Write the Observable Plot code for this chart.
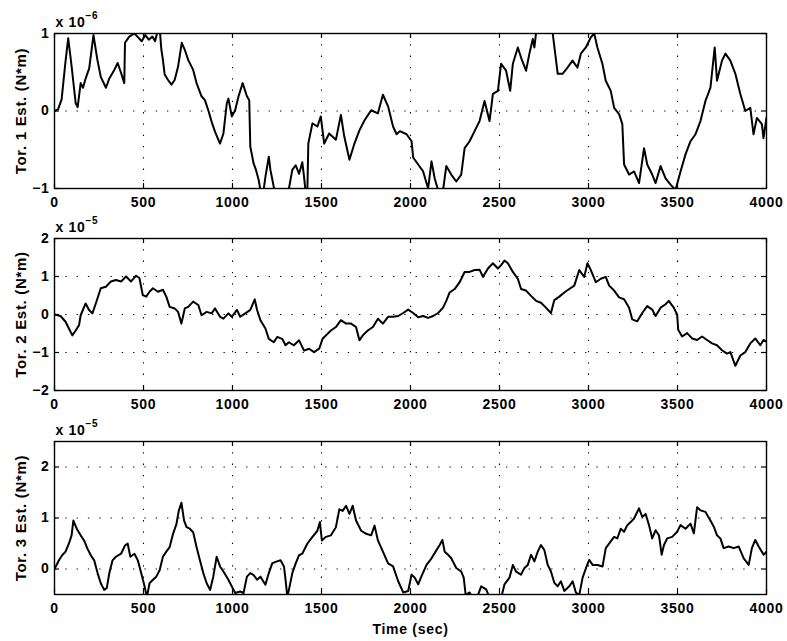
<!DOCTYPE html>
<html>
<head>
<meta charset="utf-8">
<script src="https://cdn.jsdelivr.net/npm/d3@7"></script>
<script src="https://cdn.jsdelivr.net/npm/@observablehq/plot@0.6"></script>
<style>
  html, body { margin: 0; padding: 0; background: #fff; }
  #chart { position: relative; width: 787px; height: 641px; }
  #chart svg { position: absolute; left: 0; display: block; }
</style>
</head>
<body>
<div id="chart"></div>
<script>
// Time axis ticks (sec)
const timeTicks = [0, 500, 1000, 1500, 2000, 2500, 3000, 3500, 4000];

// Torque estimate 1, units of 1e-6 N*m: [time (sec), value]
const tor1 = [
  [0,0],[20,0.02],[40,0.15],[60,0.6],[77,0.94],[95,0.6],[119,0.1],[130,0.05],[147,0.36],[160,0.3],
  [175,0.42],[195,0.55],[219,0.98],[241,0.66],[260,0.44],[289,0.3],[308,0.42],[336,0.53],[355,0.62],[374,0.49],
  [392,0.36],[396,0.88],[420,0.96],[449,1.0],[470,0.95],[490,0.9],[510,0.98],[530,0.92],[550,0.96],[565,0.9],
  [581,1.05],[590,1.1],[600,0.8],[609,0.66],[619,0.47],[638,0.4],[657,0.34],[675,0.4],[694,0.57],[715,0.88],
  [732,0.79],[751,0.66],[779,0.53],[798,0.36],[826,0.19],[845,0.14],[864,0.01],[883,-0.14],[902,-0.27],[930,-0.42],
  [949,-0.29],[968,0.1],[977,0.16],[996,-0.07],[1015,0.01],[1034,0.19],[1057,0.36],[1081,0.19],[1094,0.14],[1100,-0.46],
  [1119,-0.68],[1132,-0.76],[1147,-0.89],[1157,-1.02],[1170,-1.1],[1185,-0.85],[1204,-0.59],[1213,-0.76],[1232,-0.98],[1245,-1.1],
  [1270,-1.25],[1300,-1.15],[1317,-1.0],[1336,-0.76],[1355,-0.7],[1374,-0.81],[1392,-0.66],[1402,-0.85],[1411,-1.05],[1420,-1.1],
  [1426,-0.42],[1449,-0.16],[1477,-0.2],[1496,-0.07],[1515,-0.42],[1543,-0.29],[1581,-0.37],[1609,-0.05],[1628,-0.33],[1657,-0.63],
  [1685,-0.42],[1713,-0.25],[1742,-0.12],[1779,0.01],[1817,-0.03],[1845,0.21],[1874,0.06],[1902,-0.2],[1922,-0.3],[1940,-0.26],
  [1978,-0.3],[2006,-0.39],[2015,-0.6],[2043,-0.69],[2071,-0.78],[2099,-1.0],[2118,-0.65],[2136,-0.87],[2155,-1.02],[2170,-1.08],
  [2183,-1.02],[2201,-0.71],[2229,-0.82],[2257,-0.91],[2285,-0.82],[2304,-0.48],[2332,-0.39],[2360,-0.26],[2388,-0.13],[2416,0.13],
  [2444,-0.13],[2463,0.22],[2491,0.26],[2509,0.61],[2537,0.52],[2560,0.26],[2575,0.61],[2603,0.82],[2621,0.69],[2649,0.52],
  [2668,0.74],[2687,0.93],[2696,0.82],[2705,1.0],[2730,1.15],[2770,1.15],[2799,1.0],[2827,0.48],[2854,0.48],[2882,0.56],
  [2910,0.65],[2938,0.56],[2957,0.74],[2985,0.82],[3013,0.95],[3032,1.0],[3050,0.82],[3078,0.61],[3097,0.39],[3125,0.26],
  [3144,0.04],[3172,-0.04],[3190,-0.17],[3200,-0.69],[3228,-0.82],[3256,-0.78],[3284,-0.93],[3312,-0.48],[3330,-0.69],[3358,-0.82],
  [3377,-0.93],[3405,-0.71],[3433,-0.87],[3461,-0.95],[3489,-1.02],[3517,-0.78],[3545,-0.56],[3573,-0.39],[3601,-0.3],[3629,-0.13],
  [3657,0.13],[3685,0.3],[3709,0.82],[3722,0.39],[3750,0.65],[3769,0.74],[3797,0.65],[3825,0.48],[3853,0.22],[3881,0.0],
  [3909,0.04],[3927,-0.3],[3946,-0.09],[3974,-0.17],[3983,-0.35],[4000,-0.09]
];

// Torque estimate 2, units of 1e-5 N*m
const tor2 = [
  [0,0],[34,-0.04],[62,-0.19],[81,-0.37],[100,-0.55],[119,-0.42],[138,-0.28],[147,-0.02],[175,0.29],[194,0.12],
  [213,0.03],[232,0.29],[260,0.69],[289,0.73],[317,0.87],[345,0.91],[374,0.87],[402,1.0],[430,0.87],[458,1.02],
  [477,0.96],[496,0.51],[515,0.47],[534,0.6],[553,0.69],[581,0.6],[609,0.65],[628,0.47],[647,0.2],[675,0.16],
  [694,0.07],[713,-0.24],[732,0.16],[751,0.2],[779,0.34],[808,0.25],[826,-0.02],[855,0.07],[883,0.03],[902,0.16],
  [930,-0.06],[949,-0.11],[977,0.03],[996,-0.06],[1025,0.12],[1043,-0.06],[1072,0.03],[1100,0.12],[1125,0.4],[1138,0.12],
  [1157,-0.15],[1185,-0.37],[1204,-0.64],[1232,-0.73],[1251,-0.59],[1279,-0.64],[1298,-0.81],[1317,-0.73],[1345,-0.81],[1374,-0.68],
  [1402,-0.95],[1430,-0.9],[1458,-0.99],[1487,-0.9],[1506,-0.64],[1525,-0.55],[1553,-0.42],[1581,-0.33],[1609,-0.15],[1638,-0.24],
  [1666,-0.24],[1694,-0.33],[1713,-0.68],[1732,-0.55],[1760,-0.42],[1789,-0.33],[1817,-0.11],[1845,-0.24],[1874,-0.06],[1902,-0.06],
  [1931,-0.04],[1959,0.04],[1987,0.13],[2015,0.04],[2043,-0.07],[2071,-0.04],[2099,-0.09],[2127,-0.04],[2155,0.04],[2183,0.18],
  [2201,0.36],[2220,0.58],[2248,0.67],[2276,0.85],[2304,1.12],[2332,1.12],[2360,1.17],[2388,1.18],[2407,0.99],[2435,1.21],
  [2463,1.35],[2491,1.21],[2509,1.3],[2528,1.42],[2547,1.35],[2575,1.12],[2603,0.94],[2621,0.67],[2649,0.63],[2677,0.49],
  [2705,0.36],[2733,0.31],[2761,0.18],[2789,0.04],[2808,0.38],[2836,0.47],[2864,0.58],[2892,0.67],[2920,0.76],[2948,1.17],
  [2976,0.99],[2994,1.35],[3013,1.17],[3041,0.85],[3069,0.94],[3097,0.99],[3116,0.76],[3144,0.63],[3172,0.45],[3200,0.4],
  [3228,0.18],[3246,-0.13],[3274,-0.18],[3302,0.04],[3330,0.22],[3358,0.13],[3377,-0.04],[3405,0.18],[3433,0.27],[3451,0.36],
  [3479,0.18],[3498,0.0],[3504,-0.4],[3526,-0.58],[3554,-0.49],[3582,-0.63],[3610,-0.67],[3638,-0.58],[3666,-0.67],[3694,-0.76],
  [3722,-0.81],[3750,-0.94],[3778,-1.03],[3797,-0.99],[3825,-1.35],[3853,-1.08],[3881,-0.99],[3909,-0.76],[3937,-0.63],[3965,-0.81],
  [3983,-0.67],[4000,-0.72]
];

// Torque estimate 3, units of 1e-5 N*m
const tor3 = [
  [0,0],[25,0.17],[43,0.27],[62,0.34],[81,0.5],[96,0.66],[106,0.95],[125,0.79],[147,0.66],[166,0.56],
  [185,0.4],[204,0.27],[223,0.17],[242,-0.08],[260,-0.28],[279,-0.41],[294,-0.37],[308,-0.08],[326,0.17],[345,0.24],
  [374,0.3],[396,0.46],[411,0.5],[426,0.24],[449,0.3],[468,0.17],[487,-0.08],[506,-0.34],[519,-0.55],[534,-0.28],
  [553,-0.21],[572,-0.15],[591,-0.02],[609,0.24],[628,0.34],[647,0.43],[666,0.69],[685,0.88],[698,1.14],[713,1.3],
  [728,0.95],[742,0.82],[760,0.79],[779,0.72],[798,0.43],[817,0.17],[836,-0.08],[855,-0.28],[874,-0.41],[892,-0.15],
  [911,0.24],[930,0.05],[949,-0.05],[977,-0.21],[996,-0.34],[1015,-0.47],[1043,-0.44],[1062,-0.47],[1081,-0.15],[1100,-0.08],
  [1119,-0.12],[1138,-0.21],[1157,-0.15],[1185,-0.31],[1204,-0.08],[1223,0.11],[1242,0.14],[1270,0.17],[1289,0.05],[1298,-0.21],
  [1308,-0.55],[1321,-0.34],[1336,-0.08],[1355,0.11],[1374,0.27],[1392,0.3],[1421,0.5],[1449,0.63],[1477,0.75],[1491,0.92],
  [1502,0.56],[1525,0.63],[1553,0.66],[1581,0.82],[1600,1.17],[1619,1.14],[1638,1.24],[1657,1.08],[1675,1.24],[1694,0.95],
  [1723,0.75],[1751,0.69],[1779,0.66],[1798,0.85],[1817,0.56],[1845,0.34],[1874,0.11],[1902,0.05],[1931,-0.24],[1959,-0.46],
  [1987,-0.43],[2006,-0.11],[2024,-0.17],[2043,-0.3],[2062,-0.14],[2090,0.08],[2118,0.21],[2146,0.37],[2164,0.47],[2179,0.57],
  [2192,0.34],[2211,0.28],[2229,0.21],[2257,0.02],[2285,-0.05],[2299,-0.17],[2310,-0.51],[2332,-0.46],[2351,-0.58],[2375,-0.55],
  [2397,-0.34],[2425,-0.4],[2444,-0.56],[2480,-0.62],[2510,-0.56],[2528,-0.3],[2556,-0.17],[2575,0.08],[2593,-0.05],[2621,-0.11],
  [2640,0.02],[2659,0.08],[2677,0.28],[2696,0.15],[2715,0.34],[2733,0.47],[2752,0.37],[2771,0.08],[2789,-0.05],[2808,-0.27],
  [2827,-0.34],[2845,-0.24],[2864,-0.43],[2892,-0.34],[2911,-0.24],[2929,-0.46],[2948,-0.51],[2967,-0.17],[2986,0.02],[3004,0.18],
  [3023,0.08],[3051,0.08],[3079,0.05],[3097,0.41],[3125,0.54],[3144,0.63],[3162,0.6],[3181,0.79],[3200,0.73],[3218,0.86],
  [3237,0.92],[3256,0.99],[3284,1.19],[3302,1.02],[3321,1.08],[3340,0.86],[3358,0.6],[3377,0.76],[3396,0.66],[3411,0.28],
  [3424,0.47],[3442,0.6],[3470,0.63],[3498,0.73],[3517,0.86],[3545,0.79],[3573,0.89],[3592,0.7],[3610,1.21],[3629,1.15],
  [3657,1.12],[3685,0.95],[3704,0.83],[3722,0.66],[3741,0.6],[3759,0.41],[3788,0.44],[3816,0.41],[3844,0.44],[3872,0.21],
  [3900,0.08],[3918,0.41],[3937,0.57],[3956,0.44],[3984,0.28],[4000,0.34]
];

// Per-panel y ticks and labels
const tor1Ticks = [-1, 0, 1];
const tor2Ticks = [-2, -1, 0, 1, 2];
const tor3Ticks = [0, 1, 2];
const panelLabels = ["Tor. 1 Est. (N*m)", "Tor. 2 Est. (N*m)", "Tor. 3 Est. (N*m)"];
const exponents = ["\u22126", "\u22125", "\u22125"];
const xTitle = "Time (sec)";

const W = 787, ML = 54, MR = 21;
const font = "'Liberation Sans', Arial, Helvetica, sans-serif";
// plain integers, true minus sign, no thousands separator
const intFormat = d => (d < 0 ? "\u2212" : "") + Math.abs(d);

function panel({series, yDomain, yTicks, label, exponent, top, height, marginTop, marginBottom, xLabel}) {
  const innerH = height - marginTop - marginBottom;
  const innerW = W - ML - MR;
  const inner = yTicks.filter(v => v > yDomain[0] && v < yDomain[1]);
  const dots = {stroke: "#000", strokeWidth: 1.1, strokeDasharray: "1.3,10"};
  const marks = [
    Plot.ruleX(timeTicks.slice(1, -1), {x: d => d, ...dots}),
    Plot.ruleY(inner, {y: d => d, ...dots}),
    Plot.line(series, {x: d => d[0], y: d => d[1], stroke: "#000", strokeWidth: 2, clip: true}),
    Plot.frame({stroke: "#000", strokeWidth: 1.4}),
    // inward tick marks on all four sides
    Plot.ruleX(timeTicks, {x: d => d, insetTop: innerH - 5, stroke: "#000", strokeWidth: 1.2}),
    Plot.ruleX(timeTicks, {x: d => d, insetBottom: innerH - 5, stroke: "#000", strokeWidth: 1.2}),
    Plot.ruleY(yTicks, {y: d => d, insetRight: innerW - 5, stroke: "#000", strokeWidth: 1.2}),
    Plot.ruleY(yTicks, {y: d => d, insetLeft: innerW - 5, stroke: "#000", strokeWidth: 1.2}),
    Plot.axisX(timeTicks, {tickSize: 0, tickPadding: 9, label: null, fontSize: 14, tickFormat: intFormat}),
    Plot.axisY(yTicks, {tickSize: 0, tickPadding: 5, label: null, fontSize: 14, tickFormat: intFormat}),
    Plot.text([label], {text: d => d, frameAnchor: "left", rotate: -90, dx: -33, textAnchor: "middle", lineAnchor: "middle", fontSize: 15}),
    Plot.text(["x 10"], {text: d => d, frameAnchor: "top-left", dx: 1, dy: -7, textAnchor: "start", lineAnchor: "bottom", fontSize: 14}),
    Plot.text([exponent], {text: d => d, frameAnchor: "top-left", dx: 31, dy: -15, textAnchor: "start", lineAnchor: "bottom", fontSize: 10})
  ];
  if (xLabel) {
    marks.push(Plot.text([xLabel], {text: d => d, frameAnchor: "bottom", dy: 39, textAnchor: "middle", lineAnchor: "bottom", fontSize: 14}));
  }
  const svg = Plot.plot({
    width: W,
    height,
    marginTop,
    marginBottom,
    marginLeft: ML,
    marginRight: MR,
    style: {fontFamily: font, fontWeight: "bold", fontSize: "14px", letterSpacing: "0.7px", color: "#000", background: "transparent", overflow: "visible"},
    x: {domain: [0, 4000]},
    y: {domain: yDomain},
    marks
  });
  svg.style.top = top + "px";
  return svg;
}

const chart = document.getElementById("chart");
chart.append(
  panel({series: tor1, yDomain: [-1, 1], yTicks: tor1Ticks, label: panelLabels[0], exponent: exponents[0], top: 0, height: 212, marginTop: 33, marginBottom: 24}),
  panel({series: tor2, yDomain: [-2, 2], yTicks: tor2Ticks, label: panelLabels[1], exponent: exponents[1], top: 212, height: 206, marginTop: 26, marginBottom: 28}),
  panel({series: tor3, yDomain: [-0.5, 2.5], yTicks: tor3Ticks, label: panelLabels[2], exponent: exponents[2], top: 418, height: 223, marginTop: 23, marginBottom: 47, xLabel: xTitle})
);
</script>
</body>
</html>
